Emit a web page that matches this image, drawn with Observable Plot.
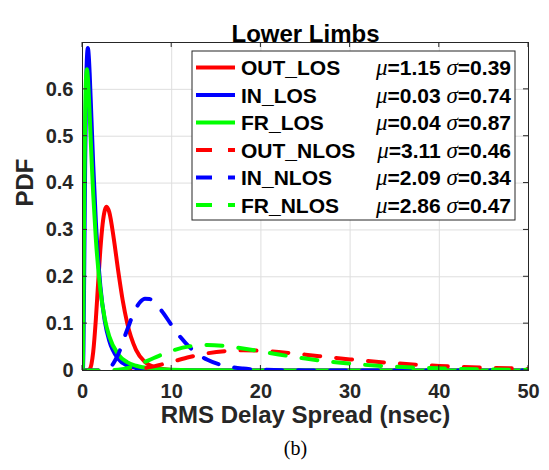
<!DOCTYPE html>
<html><head><meta charset="utf-8">
<script src="https://cdn.jsdelivr.net/npm/d3@7"></script>
<script src="https://cdn.jsdelivr.net/npm/@observablehq/plot@0.6"></script>
<style>body{margin:0;background:#fff}</style>
</head><body><div id="chart"></div>
<script>
// ---- data ----
const xTicks = [0, 10, 20, 30, 40, 50];
const yTicks = [0, 0.1, 0.2, 0.3, 0.4, 0.5, 0.6];
const seriesNames = ["OUT_LOS", "IN_LOS", "FR_LOS", "OUT_NLOS", "IN_NLOS", "FR_NLOS"];
const seriesMu = ["1.15", "0.03", "0.04", "3.11", "2.09", "2.86"];
const seriesSigma = ["0.39", "0.74", "0.87", "0.46", "0.34", "0.47"];

const outLosX = [0, 0.5, 0.8, 1, 1.2, 1.5, 1.75, 2, 2.25, 2.5, 2.7, 3, 3.5, 4, 4.5, 5, 6, 7, 8, 9, 10, 12, 15, 20, 30, 40, 50];
const outLosY = [0, 0, 0.0026, 0.0132, 0.0393, 0.110, 0.186, 0.2575, 0.3115, 0.342, 0.3495, 0.338, 0.2823, 0.2128, 0.1505, 0.1022, 0.0440, 0.0182, 0.0075, 0.0031, 0.0013, 0.0002, 0, 0, 0, 0, 0];

const inLosX = [0, 0.05, 0.1, 0.2, 0.3, 0.4, 0.5, 0.6, 0.7, 0.8, 1, 1.2, 1.5, 2, 2.5, 3, 4, 5, 6, 8, 10, 15, 20, 30, 40, 50];
const inLosY = [0, 0.0025, 0.0375, 0.2316, 0.4475, 0.595, 0.669, 0.688, 0.672, 0.6356, 0.5387, 0.4398, 0.316, 0.1804, 0.1053, 0.0633, 0.0251, 0.0111, 0.0053, 0.0015, 0.0005, 0.0001, 0, 0, 0, 0];

const frLosX = [0, 0.05, 0.1, 0.2, 0.3, 0.4, 0.5, 0.6, 0.7, 0.8, 1, 1.2, 1.5, 2, 2.5, 3, 4, 5, 6, 8, 10, 15, 20, 30, 40, 50];
const frLosY = [0, 0.0208, 0.1222, 0.380, 0.550, 0.6265, 0.643, 0.6255, 0.5904, 0.5476, 0.4581, 0.377, 0.2799, 0.173, 0.1104, 0.0729, 0.0346, 0.018, 0.0101, 0.0037, 0.0016, 0.0003, 0.0001, 0, 0, 0];

const outNlosX = [0, 2, 4, 6, 8, 10, 12, 14, 16, 18, 20, 22, 25, 28, 30, 35, 40, 45, 50];
const outNlosY = [0, 0, 0.0002, 0.0024, 0.0088, 0.0186, 0.0287, 0.0367, 0.0414, 0.0430, 0.0421, 0.0394, 0.0337, 0.0276, 0.0237, 0.0155, 0.0098, 0.0061, 0.0038];

const inNlosX = [0, 2, 3, 4, 5, 6, 6.5, 7, 7.5, 8, 9, 10, 11, 12, 13, 14, 16, 18, 20, 25, 30, 40, 50];
const inNlosY = [0, 0.0001, 0.0056, 0.0344, 0.0864, 0.1331, 0.1469, 0.1532, 0.1527, 0.1466, 0.1241, 0.0965, 0.0708, 0.0498, 0.0340, 0.0228, 0.0098, 0.0041, 0.0017, 0.0002, 0, 0, 0];

const frNlosX = [0, 2, 4, 6, 8, 10, 12, 14, 16, 18, 20, 22, 25, 28, 30, 35, 40, 45, 50];
const frNlosY = [0, 0, 0.0016, 0.0107, 0.0267, 0.0420, 0.0515, 0.0543, 0.0521, 0.0471, 0.0407, 0.0342, 0.0254, 0.0183, 0.0146, 0.0081, 0.0045, 0.0025, 0.0014];

// ---- styles ----
const colors = ["#ff0000", "#0000ff", "#00ff00", "#ff0000", "#0000ff", "#00ff00"];
const dashes = [null, null, null, "16,16", "16,16", "16,16"];
const xsAll = [outLosX, inLosX, frLosX, outNlosX, inNlosX, frNlosX];
const ysAll = [outLosY, inLosY, frLosY, outNlosY, inNlosY, frNlosY];

const rows = seriesNames.flatMap((name, k) => xsAll[k].map((x, i) => ({series: name, x, y: ysAll[k][i]})));

const sans = "'Liberation Sans', Arial, Helvetica, sans-serif";
const serif = "'Liberation Serif', 'Times New Roman', serif";
const ink = "#262626";

const plot = Plot.plot({
  width: 549, height: 470,
  marginLeft: 82, marginRight: 21, marginTop: 42, marginBottom: 100,
  style: {fontFamily: sans, fontWeight: "bold", fontSize: "20px", color: ink, background: "white", overflow: "visible"},
  x: {domain: [0, 50]},
  y: {domain: [0, 0.7]},
  marks: [
    Plot.gridX(xTicks, {stroke: "#dedede", strokeOpacity: 1}),
    Plot.gridY(yTicks, {stroke: "#dedede", strokeOpacity: 1}),
    ...seriesNames.map((name, k) => Plot.line(rows.filter(r => r.series === name), {
      x: "x", y: "y", stroke: colors[k], strokeWidth: 4, strokeDasharray: dashes[k], curve: "monotone-x", clip: true
    })),
    Plot.frame({stroke: ink, strokeWidth: 1}),
    Plot.axisX(xTicks, {anchor: "bottom", tickSize: 0, tickPadding: 13, fontSize: 20, fontWeight: "bold", label: null, tickFormat: d => d}),
    Plot.axisY(yTicks, {anchor: "left", tickSize: 0, tickPadding: 9, fontSize: 20, fontWeight: "bold", label: null, tickFormat: d => d === 0 ? "0" : d3.format(".1f")(d)}),
    Plot.text(["Lower Limbs"], {frameAnchor: "top", dy: -18, fontSize: 24, fontWeight: "bold", fill: "black"}),
    Plot.text(["RMS Delay Spread (nsec)"], {frameAnchor: "bottom", dy: 52, fontSize: 24, fontWeight: "bold", fill: ink}),
    Plot.text(["PDF"], {frameAnchor: "left", dx: -57, rotate: -90, fontSize: 24, fontWeight: "bold", fill: ink}),
    Plot.text(["(b)"], {frameAnchor: "bottom", dx: -10, dy: 84, fontSize: 20, fontWeight: "normal", fontFamily: serif, fill: "black"})
  ]
});
document.getElementById("chart").appendChild(plot);

// ---- inward ticks on all four sides (MATLAB box style) ----
const svg = d3.select(plot);
const sx = plot.scale("x"), sy = plot.scale("y");
const tg = svg.append("g").attr("stroke", ink).attr("stroke-width", 1);
const [x0, x1] = [sx.apply(0), sx.apply(50)];
const [y0, y1] = [sy.apply(0), sy.apply(0.7)];
xTicks.forEach(t => {
  const px = sx.apply(t);
  tg.append("line").attr("x1", px).attr("x2", px).attr("y1", y0).attr("y2", y0 - 5);
  tg.append("line").attr("x1", px).attr("x2", px).attr("y1", y1).attr("y2", y1 + 5);
});
yTicks.forEach(t => {
  const py = sy.apply(t);
  tg.append("line").attr("x1", x0).attr("x2", x0 + 5).attr("y1", py).attr("y2", py);
  tg.append("line").attr("x1", x1).attr("x2", x1 - 5).attr("y1", py).attr("y2", py);
});

// ---- legend ----
const lg = svg.append("g").attr("text-anchor", "start");
const box = {left: 192, top: 51, width: 323, height: 169};
lg.append("rect").attr("x", box.left).attr("y", box.top).attr("width", box.width).attr("height", box.height)
  .attr("fill", "white").attr("stroke", ink).attr("stroke-width", 1);
seriesNames.forEach((name, k) => {
  const cy = box.top + 16.5 + k * 27.5;
  lg.append("line").attr("x1", box.left + 4).attr("x2", box.left + 43).attr("y1", cy).attr("y2", cy)
    .attr("stroke", colors[k]).attr("stroke-width", 4).attr("stroke-dasharray", dashes[k]);
  lg.append("text").attr("x", box.left + 49).attr("y", cy).attr("dy", "0.36em").attr("text-anchor", "start")
    .attr("font-family", sans).attr("font-weight", "bold").attr("font-size", 21).attr("fill", "black").text(name);
  const t = lg.append("text").attr("x", box.left + 319).attr("y", cy).attr("dy", "0.36em").attr("text-anchor", "end")
    .attr("font-family", sans).attr("font-weight", "bold").attr("font-size", 21).attr("fill", "black");
  t.append("tspan").attr("font-family", serif).attr("font-style", "italic").attr("font-weight", "normal").attr("font-size", 23).text("\u03bc");
  t.append("tspan").text("=" + seriesMu[k] + " ");
  t.append("tspan").attr("font-family", serif).attr("font-style", "italic").attr("font-weight", "normal").attr("font-size", 23).text("\u03c3");
  t.append("tspan").text("=" + seriesSigma[k]);
});
</script>
</body></html>
